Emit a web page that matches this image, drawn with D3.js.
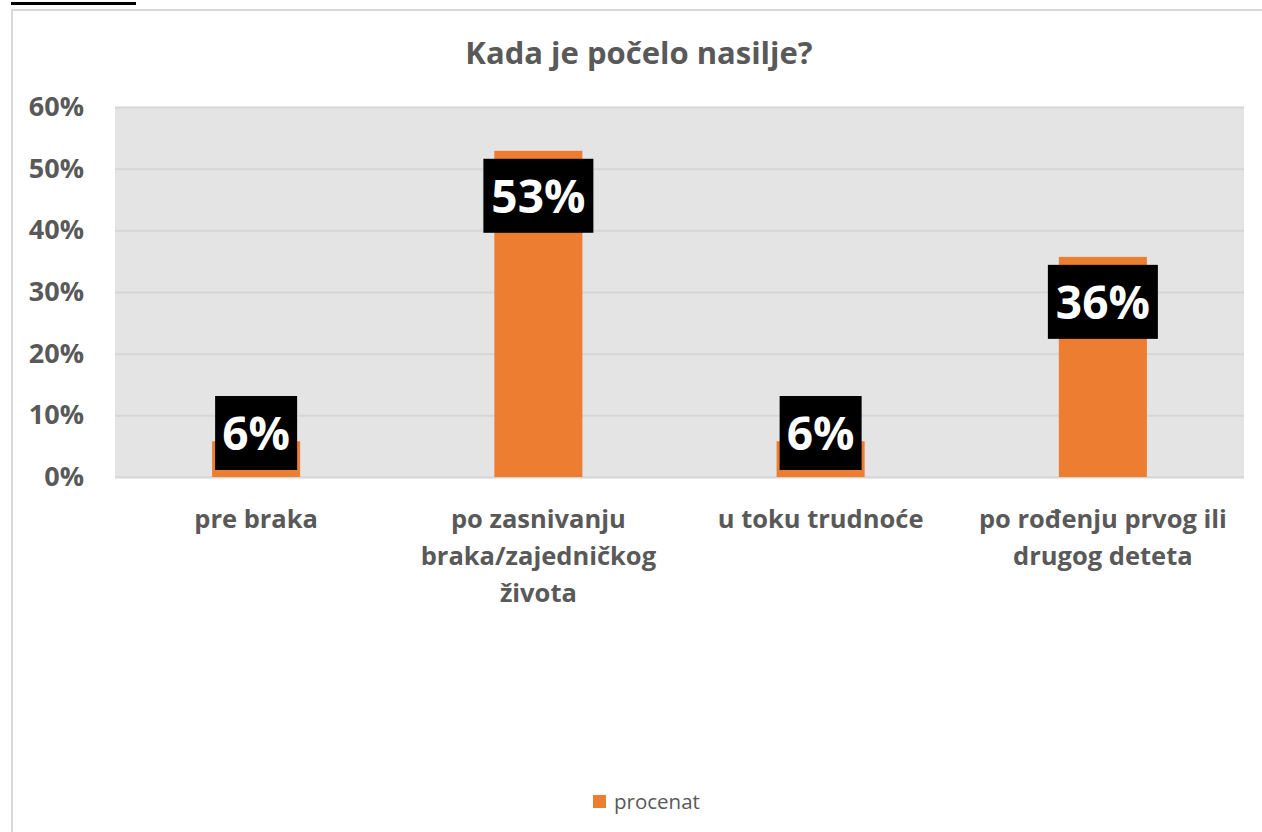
<!DOCTYPE html>
<html>
<head>
<meta charset="utf-8">
<script src="https://cdn.jsdelivr.net/npm/d3@7"></script>
<style>
  html, body { margin: 0; padding: 0; background: #fff; }
  svg { display: block; font-family: "Open Sans", "Noto Sans", sans-serif; }
</style>
</head>
<body>
<svg id="chart" width="1262" height="832"></svg>
<script>
// chart data
const categories = ['pre braka', 'po zasnivanju braka/zajedničkog života', 'u toku trudnoće', 'po rođenju prvog ili drugog deteta']
const categoryLines = [
  ['pre braka'],
  ['po zasnivanju', 'braka/zajedničkog', 'života'],
  ['u toku trudnoće'],
  ['po rođenju prvog ili', 'drugog deteta']
]
const values = [0.058, 0.529, 0.058, 0.357]
const valueLabels = ['6%', '53%', '6%', '36%']
const yTicks = [0, 0.1, 0.2, 0.3, 0.4, 0.5, 0.6]
const seriesName = 'procenat'

const svg = d3.select('#chart')
const textColor = '#595959'
const barColor = '#ed7d31'

// outer frame + black mark at the top-left
svg.append('rect')
  .attr('x', 12).attr('y', 10)
  .attr('width', 1262).attr('height', 900)
  .attr('fill', '#fff')
  .attr('stroke', '#d9d9d9')
  .attr('stroke-width', 2)
svg.append('rect')
  .attr('x', 11).attr('y', 2)
  .attr('width', 125).attr('height', 3)
  .attr('fill', '#000')

const plot = { left: 115, right: 1244, top: 107, bottom: 477 }

const x = d3.scaleBand()
  .domain(categories)
  .range([plot.left, plot.right])
  .padding(0)

const y = d3.scaleLinear()
  .domain([0, 0.6])
  .range([plot.bottom, plot.top])

// plot area background
svg.append('rect')
  .attr('x', plot.left).attr('y', plot.top)
  .attr('width', plot.right - plot.left)
  .attr('height', plot.bottom - plot.top)
  .attr('fill', '#e4e4e4')

// gridlines
const yAxis = d3.axisLeft(y)
  .tickValues(yTicks)
  .tickFormat(d3.format('.0%'))
  .tickSize(-(plot.right - plot.left))
  .tickPadding(31)

const gy = svg.append('g')
  .attr('transform', `translate(${plot.left},0)`)
  .call(yAxis)
gy.select('.domain').remove()
gy.selectAll('.tick line')
  .attr('stroke', '#d6d6d6')
  .attr('stroke-width', 2)
gy.selectAll('.tick text')
  .attr('fill', textColor)
  .attr('font-size', 27)
  .attr('font-weight', 700)
  .attr('font-family', '"Open Sans", sans-serif')

// bars
const barW = x.bandwidth() * 0.312
svg.append('g')
  .selectAll('rect')
  .data(values)
  .join('rect')
  .attr('x', (d, i) => x(categories[i]) + x.bandwidth() / 2 - barW / 2)
  .attr('y', d => y(d))
  .attr('width', barW)
  .attr('height', d => y(0) - y(d))
  .attr('fill', barColor)

// data labels: black boxes with white text
const boxH = 74
const labels = svg.append('g')
values.forEach((v, i) => {
  const cx = x(categories[i]) + x.bandwidth() / 2
  const boxW = valueLabels[i].length > 2 ? 110 : 82
  const top = Math.min(y(v) + 8, y(0) - 7 - boxH)
  labels.append('rect')
    .attr('x', cx - boxW / 2).attr('y', top)
    .attr('width', boxW).attr('height', boxH)
    .attr('fill', '#000')
  labels.append('text')
    .attr('x', cx).attr('y', top + boxH / 2 + 1)
    .attr('dy', '0.35em')
    .attr('text-anchor', 'middle')
    .attr('fill', '#fff')
    .attr('font-size', 46)
    .attr('font-weight', 700)
    .text(valueLabels[i])
})

// category labels
const xl = svg.append('g')
categoryLines.forEach((lines, i) => {
  const t = xl.append('text')
    .attr('x', x(categories[i]) + x.bandwidth() / 2)
    .attr('y', 528)
    .attr('text-anchor', 'middle')
    .attr('fill', textColor)
    .attr('font-size', 25.5)
    .attr('font-weight', 700)
  lines.forEach((ln, k) => {
    t.append('tspan')
      .attr('x', x(categories[i]) + x.bandwidth() / 2)
      .attr('dy', k === 0 ? 0 : 37)
      .text(ln)
  })
})

// title
svg.append('text')
  .attr('x', 639).attr('y', 64)
  .attr('text-anchor', 'middle')
  .attr('fill', textColor)
  .attr('font-size', 31)
  .attr('font-weight', 700)
  .text('Kada je počelo nasilje?')

// legend
const lg = svg.append('g').attr('transform', 'translate(593,795)')
lg.append('rect')
  .attr('width', 13).attr('height', 13)
  .attr('fill', barColor)
lg.append('text')
  .attr('x', 21).attr('y', 14)
  .attr('fill', textColor)
  .attr('font-size', 20.5)
  .text(seriesName)
</script>
</body>
</html>
